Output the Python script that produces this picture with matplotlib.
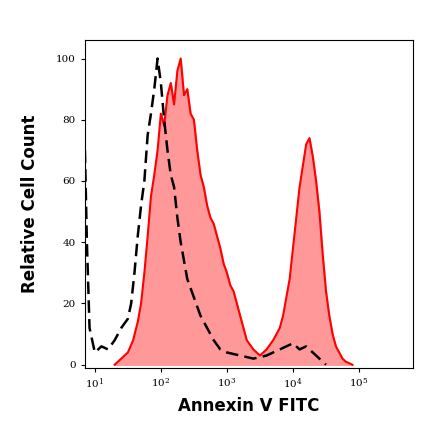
import numpy as np
import matplotlib
matplotlib.use("Agg")
import matplotlib.pyplot as plt

# log10 of Annexin V FITC intensity
red_logx = [1.30, 1.40, 1.50, 1.58, 1.65, 1.70, 1.75, 1.80, 1.85, 1.90, 1.95, 2.00, 2.05,
            2.10, 2.15, 2.20, 2.25, 2.30, 2.35, 2.40, 2.45, 2.50, 2.55, 2.60, 2.65, 2.70,
            2.75, 2.80, 2.85, 2.90, 2.95, 3.00, 3.05, 3.10, 3.15, 3.20, 3.25, 3.30, 3.40,
            3.50, 3.60, 3.70, 3.75, 3.80, 3.85, 3.90, 3.95, 4.00, 4.05, 4.10, 4.15, 4.20,
            4.25, 4.30, 4.35, 4.40, 4.45, 4.50, 4.55, 4.60, 4.65, 4.70, 4.75, 4.80, 4.90]
red_count = [0, 2, 4, 8, 14, 20, 30, 42, 55, 62, 70, 82, 78, 88, 92, 85, 96, 100, 88, 90,
             82, 80, 70, 62, 58, 52, 48, 46, 42, 38, 33, 30, 26, 24, 20, 16, 12, 8, 5,
             3, 5, 8, 10, 12, 16, 22, 28, 38, 48, 58, 65, 72, 74, 68, 60, 50, 36, 24,
             16, 10, 6, 4, 2, 1, 0]

ctrl_logx = [0.85, 0.88, 0.92, 1.00, 1.10, 1.20, 1.30, 1.40, 1.50, 1.55, 1.60, 1.65,
             1.70, 1.75, 1.80, 1.85, 1.90, 1.95, 2.00, 2.05, 2.10, 2.15, 2.20, 2.25,
             2.30, 2.35, 2.40, 2.50, 2.60, 2.70, 2.80, 2.90, 3.00, 3.20, 3.40, 3.60,
             3.80, 3.90, 4.00, 4.10, 4.20, 4.30, 4.40, 4.50]
ctrl_count = [70, 40, 12, 4, 6, 5, 8, 12, 15, 20, 30, 42, 52, 60, 75, 82, 90, 100, 92,
              80, 70, 62, 58, 48, 40, 34, 28, 22, 16, 12, 8, 5, 4, 3, 2, 3, 5, 6, 7,
              5, 6, 4, 2, 0]

fig, ax = plt.subplots(figsize=(4.4, 4.41), dpi=100)
fig.subplots_adjust(left=0.193, right=0.939, top=0.909, bottom=0.166)

rx = 10 ** np.array(red_logx)
ax.fill_between(rx, red_count, color="#ff9999", zorder=1)
ax.plot(rx, red_count, color="red", lw=1.5, zorder=2)
ax.plot(10 ** np.array(ctrl_logx), ctrl_count, color="black", lw=1.8,
        ls=(0, (5, 2.5)), zorder=3)

ax.set_xscale("log")
ax.set_xlim(10 ** 0.85, 10 ** 5.82)
ax.set_ylim(-1, 106)
ax.set_yticks([0, 20, 40, 60, 80, 100])
ax.set_xticks([1e1, 1e2, 1e3, 1e4, 1e5])
ax.minorticks_off()
for lab in ax.get_xticklabels() + ax.get_yticklabels():
    lab.set_family("DejaVu Serif")
    lab.set_fontsize(7.5)
ax.tick_params(length=3, width=0.8)
ax.set_xlabel("Annexin V FITC", fontsize=12, fontweight="bold")
ax.set_ylabel("Relative Cell Count", fontsize=12, fontweight="bold", labelpad=12)

fig.savefig("out.png", dpi=100)
